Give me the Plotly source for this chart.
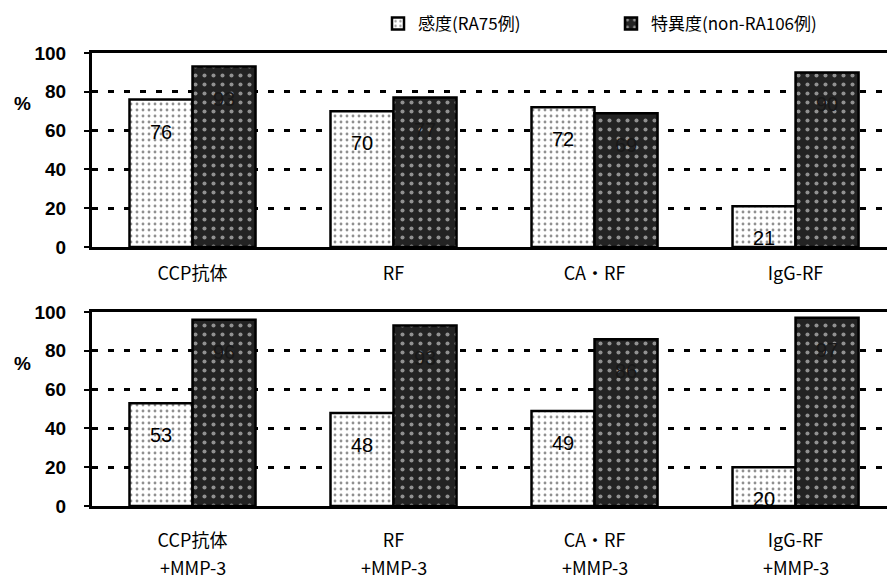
import plotly.graph_objects as go
from plotly.subplots import make_subplots

# Categories for the two panels
cats_top = ["CCP抗体", "RF", "CA・RF", "IgG-RF"]
cats_bottom = ["CCP抗体", "RF", "CA・RF", "IgG-RF"]
bottom_suffix = "+MMP-3"

# Series names
name_sens = "感度(RA75例)"
name_spec = "特異度(non-RA106例)"

# Values (%)
sens_top = [76, 70, 72, 21]
spec_top = [93, 77, 69, 90]
sens_bottom = [53, 48, 49, 20]
spec_bottom = [96, 93, 86, 97]

y_ticks = [0, 20, 40, 60, 80, 100]

NUM_FONT = "Liberation Sans, Arial, sans-serif"
JP_FONT = "Noto Sans CJK JP, sans-serif"

W, H = 887, 582
L = 92
PW = W - L  # plot-area width in pixels

fig = make_subplots(rows=2, cols=1, vertical_spacing=0.05)

light = dict(color="white", line=dict(color="black", width=2.5),
             pattern=dict(shape=".", fgcolor="#222", bgcolor="white",
                          size=6, solidity=0.18, fillmode="overlay"))
dark = dict(color="#232323", line=dict(color="black", width=2.5),
            pattern=dict(shape=".", fgcolor="white", bgcolor="#232323",
                         size=9, solidity=0.16, fillmode="overlay"))

panels = [(cats_top, sens_top, spec_top, 1), (cats_bottom, sens_bottom, spec_bottom, 2)]
for cats, sens, spec, row in panels:
    fig.add_trace(go.Bar(x=cats, y=sens, name=name_sens, marker=light,
                         showlegend=(row == 1), legendgroup="s"), row=row, col=1)
    fig.add_trace(go.Bar(x=cats, y=spec, name=name_spec, marker=dark,
                         showlegend=(row == 1), legendgroup="p"), row=row, col=1)

# Panel positions in pixels (top, bottom of plot area)
px_panels = [(53, 247), (312, 506)]
for i, (t, b) in enumerate(px_panels, start=1):
    dom = [1 - b / H, 1 - t / H]
    fig.update_yaxes(row=i, col=1, domain=dom, range=[0, 100], tickvals=y_ticks,
                     showgrid=True, gridcolor="black", gridwidth=3,
                     griddash="6px,10px", showline=True, linecolor="black",
                     linewidth=3, ticks="outside", ticklen=5, tickwidth=2,
                     tickcolor="black", zeroline=False,
                     tickfont=dict(family=NUM_FONT, size=19, color="black", weight="bold"),
                     automargin=False, ticklabelstandoff=14)
    fig.update_xaxes(row=i, col=1, domain=[0, 1], range=[-0.5, 3.455], showline=True,
                     linecolor="black", linewidth=3, mirror=True, ticks="",
                     tickfont=dict(family=JP_FONT, size=18, color="black"),
                     automargin=False, ticklabelstandoff=8 if i == 1 else 16)

# "%" axis labels
for ypx in [103, 363]:
    fig.add_annotation(x=(22 - L) / PW, y=1 - ypx / H, xref="paper",
                       yref="paper", xanchor="center", yanchor="middle",
                       text="%", showarrow=False,
                       font=dict(family=NUM_FONT, size=19, color="black", weight="bold"))

# second line of bottom category labels
for c in cats_bottom:
    fig.add_annotation(x=c, y=1 - 567 / H, xref="x2", yref="paper",
                       xanchor="center", yanchor="middle", text=bottom_suffix,
                       showarrow=False, font=dict(family=JP_FONT, size=18, color="black"))

# value labels inside bars
offset = 0.157
for (cats, sens, spec, row) in panels:
    xr = "x" if row == 1 else "x2"
    yr = "y" if row == 1 else "y2"
    for k, (s, p) in enumerate(zip(sens, spec)):
        fig.add_annotation(x=k - offset, y=s, xref=xr, yref=yr, text=str(s),
                           showarrow=False, yshift=-32,
                           font=dict(family=NUM_FONT, size=20, color="black"))
        fig.add_annotation(x=k + offset, y=p, xref=xr, yref=yr, text=str(p),
                           showarrow=False, yshift=-32,
                           font=dict(family=NUM_FONT, size=20, color="#181818"))

fig.update_layout(
    width=W, height=H,
    margin=dict(l=L, r=0, t=0, b=0, autoexpand=False),
    plot_bgcolor="white", paper_bgcolor="white",
    barmode="group", bargap=0.373, bargroupgap=0,
    legend=dict(orientation="h", x=(378 - L) / PW, y=1 - 6 / H,
                xanchor="left", yanchor="top", entrywidth=188,
                font=dict(family=JP_FONT, size=17, color="black"),
                bgcolor="rgba(0,0,0,0)", itemwidth=30),
)

fig.write_html("out.html")
